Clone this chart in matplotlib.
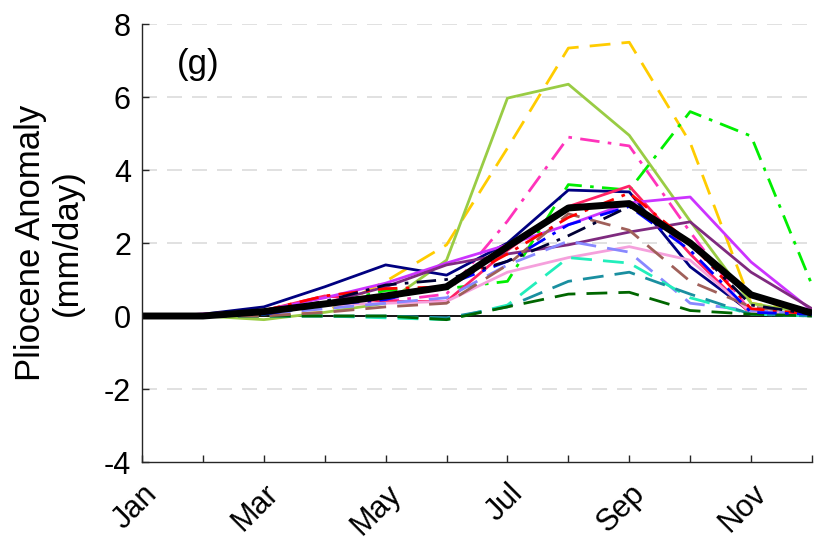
import numpy as np
import matplotlib
matplotlib.use("Agg")
import matplotlib.pyplot as plt

plt.rcParams['font.family'] = ['Liberation Sans', 'DejaVu Sans']
plt.rcParams['axes.unicode_minus'] = False

months = ['Jan', 'Feb', 'Mar', 'Apr', 'May', 'Jun', 'Jul', 'Aug', 'Sep', 'Oct', 'Nov', 'Dec']

# model anomalies (mm/day)
gold_dash     = [0, 0, 0.0, 0.1, 0.95, 1.95, 4.6, 7.34, 7.5, 4.75, 0.35, 0.1]
yellowgreen   = [0, 0, -0.1, 0.1, 0.35, 1.53, 5.97, 6.35, 4.95, 2.6, 0.35, 0.05]
lime_dashdot  = [0, 0, 0.05, 0.3, 0.7, 0.75, 0.95, 3.6, 3.45, 5.6, 4.93, 0.85]
pink_dashdot  = [0, 0, 0.1, 0.3, 0.4, 0.6, 2.6, 4.9, 4.66, 2.3, 0.1, 0.05]
navy          = [0, 0.05, 0.25, 0.8, 1.4, 1.12, 2.0, 3.45, 3.4, 1.35, 0.1, 0.05]
crimson       = [0, 0.05, 0.15, 0.55, 0.4, 0.4, 1.8, 3.0, 3.56, 1.7, 0.05, 0.05]
magenta       = [0, 0.05, 0.15, 0.5, 0.9, 1.45, 1.95, 2.5, 3.1, 3.26, 1.48, 0.15]
purple        = [0, 0, 0.1, 0.35, 0.8, 1.4, 1.7, 1.95, 2.3, 2.58, 1.2, 0.2]
lightpink     = [0, 0, 0.1, 0.3, 0.35, 0.4, 1.2, 1.6, 1.9, 1.53, 0.1, 0.05]
lavender_dash = [0, 0, 0.05, 0.2, 0.35, 0.5, 1.4, 2.05, 1.75, 0.35, 0.15, 0.05]
turq_dash     = [0, 0, 0.0, 0.0, -0.05, -0.1, 0.3, 1.6, 1.45, 0.5, 0.05, 0.0]
teal_dash     = [0, 0, 0.0, 0.0, 0.0, -0.05, 0.25, 0.95, 1.2, 0.6, 0.05, 0.0]
dkgreen_dash  = [0, 0, 0.0, 0.0, 0.0, -0.1, 0.25, 0.6, 0.65, 0.15, 0.05, 0.0]
brown_dash    = [0, 0, 0.0, 0.1, 0.25, 0.35, 1.4, 2.8, 2.35, 0.95, 0.25, 0.05]
red_dashdot   = [0, 0, 0.15, 0.55, 0.75, 0.8, 1.7, 2.7, 3.37, 2.0, 0.2, 0.05]
blue_dashdot  = [0, 0, 0.05, 0.3, 0.45, 0.85, 1.5, 2.5, 3.0, 1.8, 0.1, 0.05]
black_dashdot = [0, 0, 0.1, 0.4, 0.85, 1.0, 1.5, 2.2, 3.0, 2.0, 0.3, 0.05]
ensemble_mean = [0, 0, 0.12, 0.33, 0.55, 0.8, 1.9, 2.96, 3.08, 2.0, 0.58, 0.08]

x = np.arange(12)

fig = plt.figure(figsize=(8.21, 5.42), dpi=100)
ax = fig.add_axes([0.173, 0.1476, 0.816, 0.8081])

for yv in [-2, 2, 4, 6, 8]:
    ax.axhline(yv, color='#dcdcdc', lw=1.2, dashes=(9, 6), zorder=0)
ax.axhline(0, color='black', lw=1.3, zorder=1)

lw = 2.0
dash = (0, (7.5, 4))
dashdot = (0, (7, 3, 1.3, 3))
ax.plot(x, gold_dash, color='#ffcc00', lw=lw, ls=dash)
ax.plot(x, yellowgreen, color='#99cc44', lw=lw)
ax.plot(x, lime_dashdot, color='#00ee00', lw=lw, ls=dashdot)
ax.plot(x, pink_dashdot, color='#ff33bb', lw=lw, ls=dashdot)
ax.plot(x, navy, color='#000080', lw=lw)
ax.plot(x, crimson, color='#ff2266', lw=lw)
ax.plot(x, magenta, color='#cc33ff', lw=lw)
ax.plot(x, purple, color='#7f2a7f', lw=lw)
ax.plot(x, lightpink, color='#f5a0dc', lw=lw)
ax.plot(x, lavender_dash, color='#8888ff', lw=lw, ls=dash)
ax.plot(x, turq_dash, color='#22eebb', lw=lw, ls=dash)
ax.plot(x, teal_dash, color='#1a8fa0', lw=lw, ls=dash)
ax.plot(x, dkgreen_dash, color='#006600', lw=lw, ls=dash)
ax.plot(x, brown_dash, color='#a0605a', lw=lw, ls=dash)
ax.plot(x, red_dashdot, color='#ff0000', lw=lw, ls=dashdot)
ax.plot(x, blue_dashdot, color='#0000ff', lw=lw, ls=dashdot)
ax.plot(x, black_dashdot, color='#000033', lw=lw, ls=dashdot)
ax.plot(x, ensemble_mean, color='black', lw=5, solid_capstyle='butt')

ax.set_xlim(0, 11)
ax.set_ylim(-4, 8)
ax.set_xticks(x)
ax.set_xticklabels([m if i % 2 == 0 else '' for i, m in enumerate(months)],
                   rotation=45, ha='right', va='top', rotation_mode='anchor')
ax.set_yticks([-4, -2, 0, 2, 4, 6, 8])
ax.tick_params(direction='in', labelsize=22, length=5, width=1, colors='#262626')
ax.tick_params(axis='x', pad=12)
ax.tick_params(axis='y', pad=8)
for t in ax.get_xticklabels() + ax.get_yticklabels():
    t.set_color('black')
ax.spines['top'].set_visible(False)
ax.spines['right'].set_visible(False)
for s in ['left', 'bottom']:
    ax.spines[s].set_color('#262626')
    ax.spines[s].set_linewidth(1)

ax.set_ylabel('Pliocene Anomaly\n(mm/day)', fontsize=25, linespacing=1.15, labelpad=14)
ax.text(0.052, 0.885, '(g)', transform=ax.transAxes, fontsize=25)

fig.savefig('out.png', dpi=100)
